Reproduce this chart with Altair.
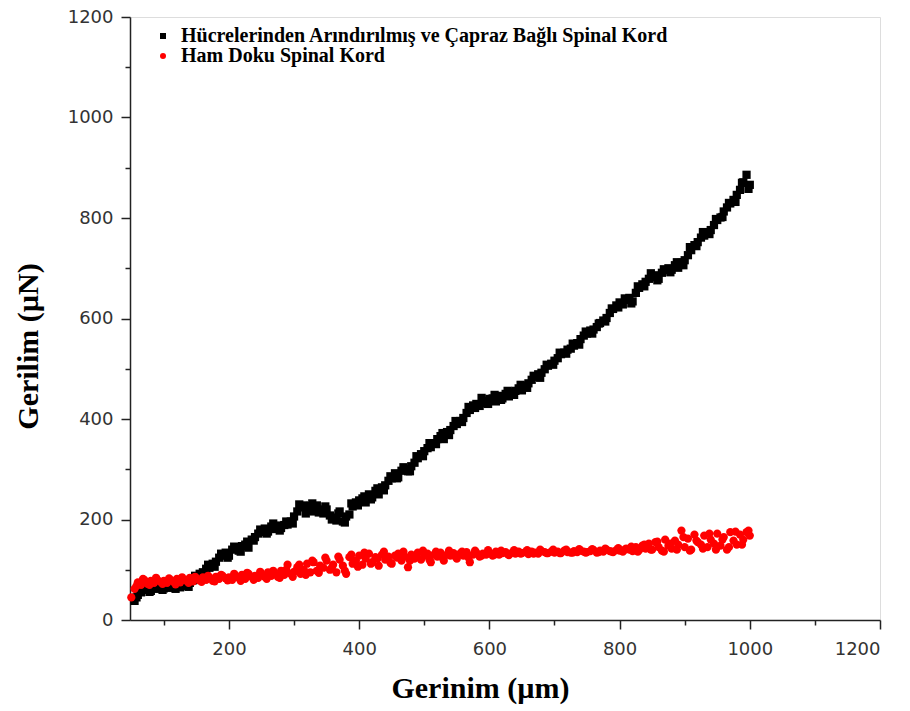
import altair as alt
import pandas as pd

black_label = "Hücrelerinden Arındırılmış ve Çapraz Bağlı Spinal Kord"
red_label = "Ham Doku Spinal Kord"

black_x = [55, 60, 65, 70, 75, 80, 85, 90, 95, 100,
           105, 110, 115, 120, 125, 130, 135, 140, 145, 150,
           155, 160, 165, 170, 175, 180, 185, 190, 195, 200,
           205, 210, 215, 220, 225, 230, 235, 240, 245, 250,
           255, 260, 265, 270, 275, 280, 285, 290, 295, 300,
           305, 310, 315, 320, 325, 330, 335, 340, 345, 350,
           355, 360, 365, 370, 375, 380, 385, 390, 395, 400,
           405, 410, 415, 420, 425, 430, 435, 440, 445, 450,
           455, 460, 465, 470, 475, 480, 485, 490, 495, 500,
           505, 510, 515, 520, 525, 530, 535, 540, 545, 550,
           555, 560, 565, 570, 575, 580, 585, 590, 595, 600,
           605, 610, 615, 620, 625, 630, 635, 640, 645, 650,
           655, 660, 665, 670, 675, 680, 685, 690, 695, 700,
           705, 710, 715, 720, 725, 730, 735, 740, 745, 750,
           755, 760, 765, 770, 775, 780, 785, 790, 795, 800,
           805, 810, 815, 820, 825, 830, 835, 840, 845, 850,
           855, 860, 865, 870, 875, 880, 885, 890, 895, 900,
           905, 910, 915, 920, 925, 930, 935, 940, 945, 950,
           955, 960, 965, 970, 975, 980, 985, 990, 995, 1000]
black_y = [38, 50, 55, 60, 62, 58, 66, 62, 67, 63,
           68, 64, 71, 67, 65, 72, 68, 74, 79, 86,
           92, 95, 102, 104, 112, 116, 124, 128, 134, 128,
           140, 142, 138, 147, 150, 144, 160, 165, 172, 175,
           182, 176, 186, 181, 188, 183, 189, 190, 196, 206,
           216, 224, 228, 218, 227, 216, 228, 220, 212, 220,
           208, 204, 198, 216, 196, 206, 210, 226, 234, 238,
           242, 234, 250, 244, 257, 250, 264, 268, 277, 282,
           292, 284, 297, 300, 296, 306, 313, 322, 330, 336,
           342, 344, 352, 360, 366, 360, 374, 378, 386, 390,
           396, 402, 412, 418, 427, 430, 426, 436, 431, 440,
           441, 435, 446, 441, 450, 445, 453, 456, 461, 457,
           466, 471, 478, 484, 489, 492, 499, 506, 510, 516,
           521, 529, 532, 538, 540, 546, 551, 559, 566, 570,
           576, 578, 583, 591, 596, 601, 611, 619, 626, 632,
           628, 637, 641, 634, 651, 661, 668, 673, 679, 682,
           686, 679, 691, 696, 700, 697, 706, 701, 711, 716,
           726, 736, 746, 752, 761, 765, 771, 776, 786, 796,
           801, 813, 821, 829, 836, 846, 856, 871, 886, 866]

# second pass of decellularized readings (offset sampling)
black2_x = [58, 68, 78, 88, 98, 108, 118, 128, 138, 148,
            158, 168, 178, 188, 198, 208, 218, 228, 238, 248,
            258, 268, 278, 288, 298, 308, 318, 328, 338, 348,
            358, 368, 378, 388, 398, 408, 418, 428, 438, 448,
            458, 468, 478, 488, 498, 508, 518, 528, 538, 548,
            558, 568, 578, 588, 598, 608, 618, 628, 638, 648,
            658, 668, 678, 688, 698, 708, 718, 728, 738, 748,
            758, 768, 778, 788, 798, 808, 818, 828, 838, 848,
            858, 868, 878, 888, 898, 908, 918, 928, 938, 948,
            958, 968, 978, 988, 998]
black2_y = [45, 62, 56, 70, 60, 72, 62, 74, 66, 88,
            86, 110, 106, 132, 124, 146, 136, 156, 158, 180,
            172, 192, 178, 196, 192, 230, 212, 232, 214, 226,
            200, 212, 194, 232, 228, 246, 240, 262, 258, 286,
            282, 304, 296, 326, 326, 352, 350, 372, 368, 396,
            394, 424, 422, 442, 430, 448, 438, 456, 448, 468,
            462, 486, 482, 508, 508, 532, 530, 550, 548, 574,
            570, 590, 594, 620, 622, 640, 630, 664, 664, 690,
            676, 698, 692, 712, 706, 742, 744, 772, 768, 798,
            802, 830, 832, 870, 858]

red_x = [50, 55, 60, 65, 70, 75, 80, 85, 90, 95,
         100, 105, 110, 115, 120, 125, 130, 135, 140, 145,
         150, 155, 160, 165, 170, 175, 180, 185, 190, 195,
         200, 205, 210, 215, 220, 225, 230, 235, 240, 245,
         250, 255, 260, 265, 270, 275, 280, 285, 290, 295,
         300, 305, 310, 315, 320, 325, 330, 335, 340, 345,
         350, 355, 360, 365, 370, 375, 380, 385, 390, 395,
         400, 405, 410, 415, 420, 425, 430, 435, 440, 445,
         450, 455, 460, 465, 470, 475, 480, 485, 490, 495,
         500, 505, 510, 515, 520, 525, 530, 535, 540, 545,
         550, 555, 560, 565, 570, 575, 580, 585, 590, 595,
         600, 605, 610, 615, 620, 625, 630, 635, 640, 645,
         650, 655, 660, 665, 670, 675, 680, 685, 690, 695,
         700, 705, 710, 715, 720, 725, 730, 735, 740, 745,
         750, 755, 760, 765, 770, 775, 780, 785, 790, 795,
         800, 805, 810, 815, 820, 825, 830, 835, 840, 845,
         850, 855, 860, 865, 870, 875, 880, 885, 890, 895,
         900, 905, 910, 915, 920, 925, 930, 935, 940, 945,
         950, 955, 960, 965, 970, 975, 980, 985, 990, 995,
         1000]
red_y = [45, 62, 75, 70, 80, 72, 78, 74, 80, 76,
         78, 74, 80, 76, 82, 75, 80, 78, 84, 77,
         82, 79, 85, 80, 84, 78, 86, 82, 88, 83,
         85, 80, 88, 84, 90, 82, 92, 86, 88, 84,
         90, 86, 95, 88, 92, 86, 98, 90, 110, 92,
         96, 105, 92, 100, 112, 95, 115, 98, 108, 104,
         118, 100, 110, 95, 120, 108, 92, 125, 112, 118,
         128, 110, 122, 132, 115, 125, 108, 130, 120, 126,
         112, 128, 132, 118, 126, 105, 130, 122, 134, 120,
         128, 132, 115, 130, 126, 134, 118, 130, 128, 133,
         122, 132, 128, 135, 115, 130, 134, 126, 132, 130,
         134, 128, 136, 130, 133, 135, 129, 134, 132, 136,
         133, 135, 131, 136, 134, 132, 137, 135, 133, 136,
         134, 136, 133, 138, 135, 134, 137, 135, 138, 136,
         135, 137, 139, 134, 138, 136, 140, 137, 135, 139,
         138, 136, 142, 140, 137, 145, 139, 148, 142, 152,
         140, 155, 145, 138, 160, 148, 142, 158, 150, 178,
         145, 162, 140, 170, 155, 150, 168, 145, 160, 152,
         172, 148, 165, 140, 175, 158, 150, 170, 160, 175,
         168]

# second pass of raw-tissue readings (offset sampling)
red2_x = [58, 68, 78, 88, 98, 108, 118, 128, 138, 148,
          158, 168, 178, 188, 198, 208, 218, 228, 238, 248,
          258, 268, 278, 288, 298, 308, 318, 328, 338, 348,
          358, 368, 378, 388, 398, 408, 418, 428, 438, 448,
          458, 468, 478, 488, 498, 508, 518, 528, 538, 548,
          558, 568, 578, 588, 598, 608, 618, 628, 638, 648,
          658, 668, 678, 688, 698, 708, 718, 728, 738, 748,
          758, 768, 778, 788, 798, 808, 818, 828, 838, 848,
          858, 868, 878, 888, 898, 908, 918, 928, 938, 948,
          958, 968, 978, 988, 998]
red2_y = [68, 82, 70, 84, 72, 83, 71, 85, 74, 86,
          76, 88, 77, 90, 79, 92, 78, 94, 80, 96,
          82, 98, 84, 100, 86, 110, 90, 118, 94, 124,
          104, 126, 98, 130, 106, 134, 112, 122, 136, 114,
          124, 136, 118, 128, 138, 120, 136, 124, 138, 126,
          136, 124, 138, 128, 139, 130, 138, 131, 139, 132,
          139, 132, 140, 133, 140, 133, 140, 134, 141, 134,
          141, 135, 142, 136, 143, 140, 146, 136, 150, 140,
          156, 136, 152, 140, 165, 138, 158, 142, 172, 140,
          160, 145, 176, 150, 178]

assert len(black_x) == len(black_y)
assert len(black2_x) == len(black2_y)
assert len(red_x) == len(red_y)
assert len(red2_x) == len(red2_y)

x_major = [200, 400, 600, 800, 1000, 1200]
x_minor = [100, 300, 500, 700, 900, 1100]
y_major = [0, 200, 400, 600, 800, 1000, 1200]
y_minor = [100, 300, 500, 700, 900, 1100]

df = pd.concat([
    pd.DataFrame({"x": black_x + black2_x, "y": black_y + black2_y, "s": black_label}),
    pd.DataFrame({"x": red_x + red2_x, "y": red_y + red2_y, "s": red_label}),
], ignore_index=True)
df["order"] = range(len(df))

xscale = alt.Scale(domain=[48, 1200], nice=False, zero=False)
yscale = alt.Scale(domain=[0, 1200], nice=False)

axis_common = dict(domainColor="#222", domainWidth=1.5, tickColor="#222",
                   tickWidth=1.5, labelFont="DejaVu Sans", labelFontSize=18,
                   labelColor="#333", titleFont="Liberation Serif",
                   titleFontWeight="bold", titleFontSize=30, titleColor="black",
                   grid=False, format="d")

legend_kw = dict(title=None, orient="none", legendX=23, legendY=9,
                 labelFont="Liberation Serif", labelFontWeight="bold",
                 labelFontSize=20, labelColor="black", labelLimit=0,
                 symbolSize=36, rowPadding=0, padding=0,
                 labelOffset=8, symbolStrokeWidth=0)

points = alt.Chart(df).mark_point(filled=True, opacity=1, size=68).encode(
    x=alt.X("x:Q", scale=xscale,
            axis=alt.Axis(values=x_major, title="Gerinim (µm)", tickSize=9,
                          labelPadding=11, orient="bottom",
                          titleX=350, titleY=68, titleBaseline="middle",
                          **axis_common)),
    y=alt.Y("y:Q", scale=yscale,
            axis=alt.Axis(values=y_major, title="Gerilim (µN)", tickSize=9,
                          labelPadding=8, orient="left",
                          titleX=-102, titleY=329, titleAngle=-90,
                          titleBaseline="middle", titleAlign="center",
                          **axis_common)),
    color=alt.Color("s:N", scale=alt.Scale(domain=[black_label, red_label],
                                           range=["black", "#ff0000"]),
                    legend=alt.Legend(**legend_kw)),
    shape=alt.Shape("s:N", scale=alt.Scale(domain=[black_label, red_label],
                                           range=["square", "circle"]),
                    legend=alt.Legend(**legend_kw)),
    order=alt.Order("order:Q"),
)

minor = alt.Chart(df).mark_point(opacity=0).encode(
    x=alt.X("x:Q", scale=xscale,
            axis=alt.Axis(values=x_minor, labels=False, title=None, domain=False,
                          tickSize=5, tickColor="#222", tickWidth=1.5, grid=False,
                          orient="bottom")),
    y=alt.Y("y:Q", scale=yscale,
            axis=alt.Axis(values=y_minor, labels=False, title=None, domain=False,
                          tickSize=5, tickColor="#222", tickWidth=1.5, grid=False,
                          orient="left")),
)

chart = alt.layer(points, minor).resolve_axis(x="independent", y="independent").properties(
    width=750, height=603,
    autosize=alt.AutoSizeParams(type="none"),
    padding={"left": 130, "top": 17, "right": 30, "bottom": 91},
).configure_view(stroke=None).configure(background="white")

chart.save("out.html", embed_options={"renderer": "svg", "actions": False})
